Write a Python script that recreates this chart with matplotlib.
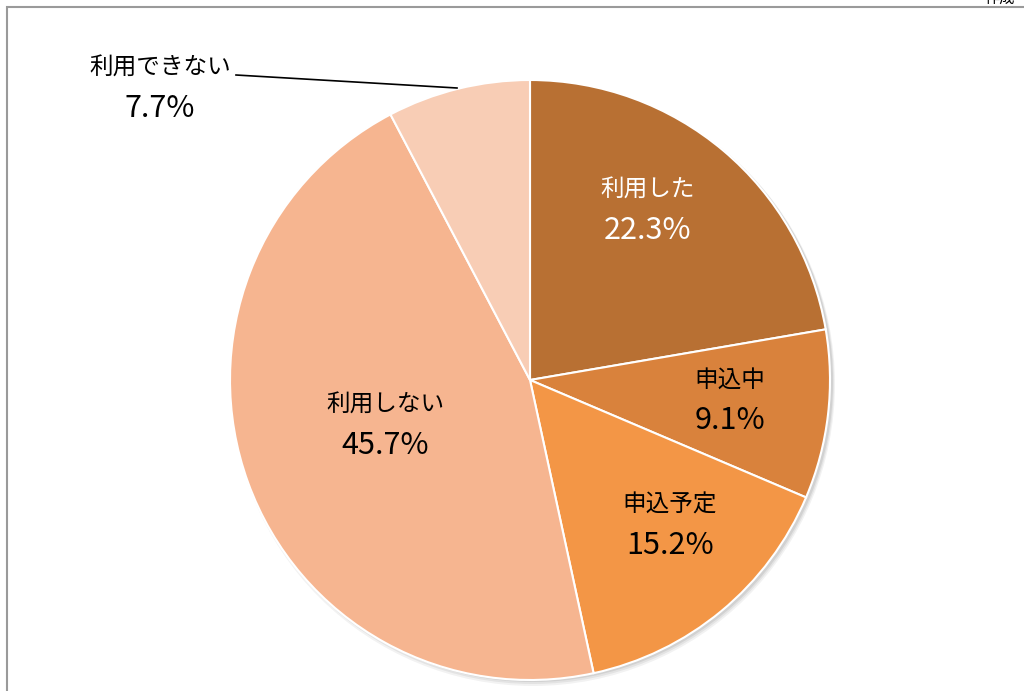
import matplotlib.pyplot as plt
from matplotlib.patches import Circle, Rectangle

plt.rcParams['font.family'] = ['Noto Sans CJK JP', 'DejaVu Sans']

labels = ["利用した", "申込中", "申込予定", "利用しない", "利用できない"]
shares = [22.3, 9.1, 15.2, 45.7, 7.7]
colors = ["#B87033", "#D9823C", "#F39646", "#F6B590", "#F8CDB5"]
text_colors = ["white", "black", "black", "black", "black"]

W, H = 1024, 691
fig = plt.figure(figsize=(W / 100, H / 100), dpi=100)
ax = fig.add_axes([0, 0, 1, 1])


def py(y):
    # pixel row (from top) to data y
    return H - y


# frame around the chart area
ax.add_patch(Rectangle((7, -10), W, py(7) + 10, fill=False, edgecolor="#9a9a9a", lw=1.5))
ax.text(1000, py(-2), "作成", ha="center", va="center", fontsize=11, color="black")

cx, cy, r = 530, py(380), 300

# soft shadow below the pie
for i, a in enumerate([0.05, 0.06, 0.08]):
    ax.add_patch(Circle((cx + 3, cy - 4 + i), r + 2 - i, color="black", alpha=a, lw=0, zorder=1))

wedges, _ = ax.pie(shares, colors=colors, startangle=90, counterclock=False,
                   center=(cx, cy), radius=r, frame=True,
                   wedgeprops=dict(edgecolor="white", linewidth=1.5))
for w in wedges:
    w.set_zorder(2)
ax.set_xlim(0, W)
ax.set_ylim(0, H)
ax.set_aspect("equal")
ax.axis("off")

# label centres (category name above, percentage below)
label_pos = [(648, 190), (730, 380), (670, 505), (385, 405), (160, 68)]
for lab, val, (x, y), tc in zip(labels, shares, label_pos, text_colors):
    ax.text(x, py(y), lab, ha="center", va="center", fontsize=17, color=tc, zorder=5)
    ax.text(x, py(y + 40), f"{val:.1f}%", ha="center", va="center", fontsize=22,
            color=tc, zorder=5)

# leader line for the small slice
ax.plot([236, 457], [py(75), py(88)], color="black", lw=1.2, zorder=5)

fig.savefig("out.png", dpi=100)
